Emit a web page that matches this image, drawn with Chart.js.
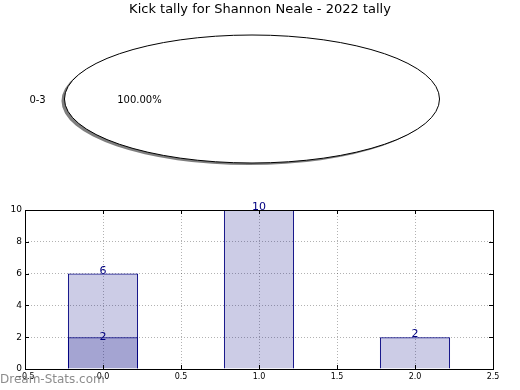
<!DOCTYPE html>
<html>
<head>
<meta charset="utf-8">
<script src="https://cdn.jsdelivr.net/npm/chart.js@4.4.0/dist/chart.umd.min.js"></script>
<style>
  body { margin: 0; background: #fff; }
  #wrap { position: relative; width: 520px; height: 390px; }
  canvas { position: absolute; left: 0; }
  #pie { top: 0; }
  #bars { top: 195px; }
</style>
</head>
<body>
<div id="wrap">
  <canvas id="pie" width="520" height="195"></canvas>
  <canvas id="bars" width="520" height="195"></canvas>
</div>
<script>
'use strict' ;

const titleText = 'Kick tally for Shannon Neale - 2022 tally' ;

// pie data
const pieLabels = ['0-3'] ;
const pieValues = [18] ;

// bar data (x position, count)
const barX = [0, 1, 2] ;
const barTotals = [6, 10, 2] ;
const overlayX = [0] ;
const overlayValues = [2] ;

const xTicks = [-0.5, 0, 0.5, 1, 1.5, 2, 2.5] ;
const yTicks = [0, 2, 4, 6, 8, 10] ;

const font = 'DejaVu Sans' ;
const navy = 'rgb(0, 0, 128)' ;
const navyFill = 'rgba(0, 0, 128, 0.2)' ;

// pie is drawn as a flat ellipse
const stretchX = 2.93 ;
const pieShift = -8 ;

const ellipsePlugin = {
  id: 'ellipse',
  beforeDatasetsDraw (chart)
  {
    const arc = chart.getDatasetMeta(0).data[0] ;
    const ctx = chart.ctx ;
    ctx.save() ;
    ctx.translate(arc.x + pieShift, arc.y) ;
    ctx.scale(stretchX, 1) ;
    ctx.translate(-arc.x, -arc.y) ;
    ctx.shadowColor = 'rgba(0, 0, 0, 0.5)' ;
    ctx.shadowOffsetX = -3 ;
    ctx.shadowOffsetY = 2 ;
    ctx.shadowBlur = 0 ;
  },
  afterDatasetsDraw (chart)
  {
    const ctx = chart.ctx ;
    ctx.restore() ;
    const arc = chart.getDatasetMeta(0).data[0] ;
    const cx = arc.x + pieShift ;
    const rx = arc.outerRadius * stretchX ;
    const ry = arc.outerRadius ;
    ctx.save() ;
    ctx.beginPath() ;
    ctx.ellipse(cx, arc.y, rx, ry, 0, 0, Math.PI * 2) ;
    ctx.strokeStyle = '#000' ;
    ctx.lineWidth = 1 ;
    ctx.stroke() ;

    const total = pieValues.reduce((a, b) => a + b, 0) ;
    ctx.fillStyle = '#000' ;
    ctx.font = '10px "' + font + '"' ;
    ctx.textBaseline = 'middle' ;
    ctx.textAlign = 'right' ;
    ctx.fillText(pieLabels[0], cx - 1.1 * rx, arc.y + 1) ;
    ctx.textAlign = 'center' ;
    ctx.fillText((pieValues[0] / total * 100).toFixed(2) + '%', cx - 0.6 * rx, arc.y + 1) ;
    ctx.restore() ;
  }
} ;

new Chart(document.getElementById('pie'), {
  type: 'pie',
  data: {
    labels: pieLabels,
    datasets: [{
      data: pieValues,
      backgroundColor: '#ffffff',
      borderWidth: 0,
      clip: false
    }]
  },
  options: {
    responsive: false,
    animation: false,
    layout: { padding: { left: 0, right: 0, top: 0, bottom: 32 } },
    plugins: {
      legend: { display: false },
      tooltip: { enabled: false },
      title: {
        display: true,
        text: titleText,
        color: '#000',
        font: { family: font, size: 13, weight: 'normal' },
        padding: { top: 2.2, bottom: 17.2 }
      }
    }
  },
  plugins: [ellipsePlugin]
}) ;

const framePlugin = {
  id: 'frame',
  afterDatasetsDraw (chart)
  {
    const ctx = chart.ctx ;
    const a = chart.chartArea ;
    const xs = chart.scales.x ;
    const ys = chart.scales.y ;
    ctx.save() ;

    // value labels
    ctx.fillStyle = navy ;
    ctx.font = '11px "' + font + '"' ;
    ctx.textAlign = 'center' ;
    ctx.textBaseline = 'alphabetic' ;
    chart.data.datasets.forEach((ds, i) => {
      const drop = i === 1 ? 3 : 0 ;
      chart.getDatasetMeta(i).data.forEach((el, j) => {
        ctx.fillText(String(ds.data[j].y), el.x, el.y + drop) ;
      }) ;
    }) ;

    // frame and inner ticks
    ctx.strokeStyle = '#000' ;
    ctx.lineWidth = 1 ;
    ctx.strokeRect(Math.round(a.left) + 0.5, Math.round(a.top) + 0.5, Math.round(a.width), Math.round(a.height)) ;
    ctx.beginPath() ;
    xTicks.forEach(v => {
      const px = Math.round(xs.getPixelForValue(v)) + 0.5 ;
      ctx.moveTo(px, a.bottom) ; ctx.lineTo(px, a.bottom - 4) ;
      ctx.moveTo(px, a.top) ; ctx.lineTo(px, a.top + 4) ;
    }) ;
    yTicks.forEach(v => {
      const py = Math.round(ys.getPixelForValue(v)) + 0.5 ;
      ctx.moveTo(a.left, py) ; ctx.lineTo(a.left + 4, py) ;
      ctx.moveTo(a.right, py) ; ctx.lineTo(a.right - 4, py) ;
    }) ;
    ctx.stroke() ;
    ctx.restore() ;
  },
  afterDraw (chart)
  {
    const ctx = chart.ctx ;
    ctx.save() ;
    ctx.fillStyle = 'rgba(120, 120, 120, 0.85)' ;
    ctx.font = '12px "' + font + '"' ;
    ctx.textAlign = 'left' ;
    ctx.textBaseline = 'middle' ;
    ctx.fillText('Dream-Stats.com', 0, 185) ;
    ctx.restore() ;
  }
} ;

new Chart(document.getElementById('bars'), {
  type: 'bar',
  data: {
    datasets: [
      {
        data: barX.map((x, i) => ({ x: x, y: barTotals[i] })),
        backgroundColor: navyFill,
        borderColor: navy,
        borderWidth: 1,
        grouped: false,
        barPercentage: 0.9,
        categoryPercentage: 1
      },
      {
        data: overlayX.map((x, i) => ({ x: x, y: overlayValues[i] })),
        backgroundColor: navyFill,
        borderColor: navy,
        borderWidth: 1,
        grouped: false,
        barPercentage: 0.9,
        categoryPercentage: 1
      }
    ]
  },
  options: {
    responsive: false,
    animation: false,
    layout: { padding: { left: 0, right: 27, top: 15, bottom: 0 } },
    plugins: {
      legend: { display: false },
      tooltip: { enabled: false }
    },
    scales: {
      x: {
        type: 'linear',
        offset: false,
        min: -0.5,
        max: 2.5,
        afterBuildTicks: s => { s.ticks = xTicks.map(v => ({ value: v })) ; },
        afterFit: s => { s.height = 21 ; },
        ticks: {
          color: '#000',
          font: { family: font, size: 8 },
          padding: 3,
          maxRotation: 0,
          callback: v => (v < 0 ? '\u2212' : '') + Math.abs(v).toFixed(1)
        },
        grid: { color: 'rgba(0, 0, 0, 0.3)', drawTicks: false, offset: false },
        border: { display: false, dash: [1, 2] }
      },
      y: {
        min: 0,
        max: 10,
        afterBuildTicks: s => { s.ticks = yTicks.map(v => ({ value: v })) ; },
        afterFit: s => { s.width = 25 ; },
        ticks: {
          color: '#000',
          font: { family: font, size: 9 },
          padding: 3
        },
        grid: { color: 'rgba(0, 0, 0, 0.3)', drawTicks: false },
        border: { display: false, dash: [1, 2] }
      }
    }
  },
  plugins: [framePlugin]
}) ;
</script>
</body>
</html>
